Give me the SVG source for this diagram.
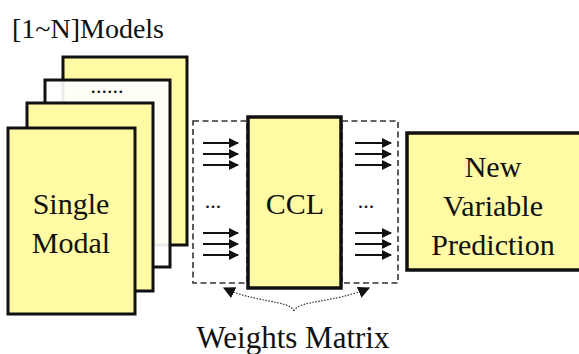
<svg xmlns="http://www.w3.org/2000/svg" width="579" height="354" viewBox="0 0 579 354">
  <defs>
    <marker id="head" viewBox="0 0 10 10" refX="9" refY="5" markerWidth="5" markerHeight="5" markerUnits="strokeWidth" orient="auto">
      <path d="M0,0 L10,5 L0,10 z" fill="#111"/>
    </marker>
    <marker id="small" viewBox="0 0 10 10" refX="9" refY="5" markerWidth="10" markerHeight="10" markerUnits="strokeWidth" orient="auto">
      <path d="M0,0 L10,5 L0,10 z" fill="#111"/>
    </marker>
  </defs>
  <rect width="579" height="354" fill="#FFFFFF"/>

  <text x="12" y="38" font-size="28" fill="#111" font-family="Liberation Serif">[1~N]Models</text>

  <!-- stack of single-modal model cards -->
  <g id="model-stack" stroke="#111" stroke-width="3">
    <rect x="63" y="57" width="124" height="188" fill="#FFFAA3"/>
    <rect x="45" y="80" width="125" height="187" fill="#FFFFFF" fill-opacity="0.92"/>
    <text x="107" y="93" font-size="22" text-anchor="middle" stroke="none" fill="#111" font-family="Liberation Serif">......</text>
    <rect x="27" y="103" width="126" height="188" fill="#FFFAA3"/>
  </g>
  <g id="single-modal">
    <rect x="8" y="128" width="127" height="186" fill="#FFFAA3" stroke="#111" stroke-width="3"/>
    <text x="71" y="214" font-size="30" text-anchor="middle" fill="#111" font-family="Liberation Serif">Single</text>
    <text x="71" y="253" font-size="30" text-anchor="middle" fill="#111" font-family="Liberation Serif">Modal</text>
  </g>

  <!-- weights matrices on both sides of the CCL block -->
  <g id="weights-left" fill="none" stroke="#333" stroke-width="1.6" stroke-dasharray="6 3.5">
    <rect x="193" y="121" width="54" height="162"/>
  </g>
  <g id="weights-right" fill="none" stroke="#333" stroke-width="1.6" stroke-dasharray="6 3.5">
    <rect x="342" y="121" width="56" height="162"/>
  </g>

  <g id="ccl">
    <rect x="248" y="117" width="93" height="171" fill="#FFFAA3" stroke="#111" stroke-width="3.5"/>
    <text x="295" y="214" font-size="30" text-anchor="middle" fill="#111" font-family="Liberation Serif">CCL</text>
  </g>

  <g id="new-variable-prediction">
    <rect x="407" y="133" width="175" height="137" fill="#FFFAA3" stroke="#111" stroke-width="3.5"/>
    <text x="493" y="177" font-size="30" text-anchor="middle" fill="#111" font-family="Liberation Serif">New</text>
    <text x="493" y="216" font-size="30" text-anchor="middle" fill="#111" font-family="Liberation Serif">Variable</text>
    <text x="493" y="255" font-size="30" text-anchor="middle" fill="#111" font-family="Liberation Serif">Prediction</text>
  </g>

  <g id="connectors">
    <g stroke="#111" stroke-width="2" marker-end="url(#head)">
      <line x1="203" y1="143" x2="238" y2="143"/>
      <line x1="203" y1="154" x2="238" y2="154"/>
      <line x1="203" y1="165" x2="238" y2="165"/>
      <line x1="203" y1="233" x2="238" y2="233"/>
      <line x1="203" y1="244" x2="238" y2="244"/>
      <line x1="203" y1="255" x2="238" y2="255"/>
      <line x1="355" y1="143" x2="391" y2="143"/>
      <line x1="355" y1="154" x2="391" y2="154"/>
      <line x1="355" y1="165" x2="391" y2="165"/>
      <line x1="355" y1="233" x2="391" y2="233"/>
      <line x1="355" y1="244" x2="391" y2="244"/>
      <line x1="355" y1="255" x2="391" y2="255"/>
    </g>
    <text x="213" y="208" font-size="22" text-anchor="middle" fill="#111" font-family="Liberation Serif">...</text>
    <text x="366" y="208" font-size="22" text-anchor="middle" fill="#111" font-family="Liberation Serif">...</text>

    <g fill="none" stroke="#333" stroke-width="1.2" stroke-dasharray="1.5 1.5" marker-end="url(#small)">
      <path d="M294,311 C290,300 255,303 224,288"/>
      <path d="M294,311 C298,300 335,303 369,288"/>
    </g>
  </g>

  <text x="293" y="348" font-size="31" text-anchor="middle" fill="#111" font-family="Liberation Serif">Weights Matrix</text>
</svg>
